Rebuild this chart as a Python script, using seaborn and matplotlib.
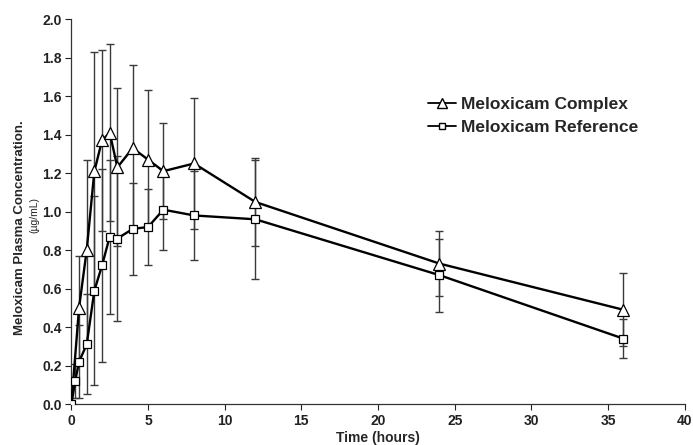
import matplotlib
matplotlib.use("Agg")
import matplotlib.pyplot as plt
import seaborn as sns
import pandas as pd
import numpy as np

# sampling times (hours)
times_complex = [0, 0.5, 1, 1.5, 2, 2.5, 3, 4, 5, 6, 8, 12, 24, 36]
complex_mean = [0, 0.50, 0.80, 1.21, 1.37, 1.41, 1.23, 1.33, 1.27, 1.21, 1.25, 1.05, 0.73, 0.49]
complex_sd = [0, 0.27, 0.47, 0.62, 0.47, 0.46, 0.41, 0.43, 0.36, 0.25, 0.34, 0.23, 0.17, 0.19]

times_ref = [0, 0.25, 0.5, 1, 1.5, 2, 2.5, 3, 4, 5, 6, 8, 12, 24, 36]
ref_mean = [0, 0.12, 0.22, 0.31, 0.59, 0.72, 0.87, 0.86, 0.91, 0.92, 1.01, 0.98, 0.96, 0.67, 0.34]
ref_sd = [0, 0.09, 0.19, 0.26, 0.49, 0.50, 0.40, 0.43, 0.24, 0.20, 0.21, 0.23, 0.31, 0.19, 0.10]

labels = ["Meloxicam Complex", "Meloxicam Reference"]
markers = {"Meloxicam Complex": "^", "Meloxicam Reference": "s"}

df = pd.concat([
    pd.DataFrame({"time": times_complex, "conc": complex_mean, "sd": complex_sd, "group": labels[0]}),
    pd.DataFrame({"time": times_ref, "conc": ref_mean, "sd": ref_sd, "group": labels[1]}),
])

sns.set_style("ticks")
plt.rcParams["font.family"] = ["Liberation Sans", "DejaVu Sans"]
plt.rcParams["font.weight"] = "bold"

fig = plt.figure(figsize=(6.93, 4.45), dpi=100)
ax = fig.add_axes([0.103, 0.092, 0.885, 0.865])

# error bars first, behind the curves
for name, sub in df.groupby("group"):
    sub = sub[sub["sd"] > 0]
    ax.errorbar(sub["time"], sub["conc"], yerr=sub["sd"], fmt="none",
                ecolor="#3a3a3a", elinewidth=1.0, capsize=3, capthick=1.0, zorder=1)

sns.lineplot(data=df, x="time", y="conc", hue="group", style="group",
             markers=markers, dashes=False, palette=["black", "black"],
             linewidth=1.7, markersize=8, markerfacecolor="white",
             markeredgecolor="black", markeredgewidth=0.9,
             ax=ax, zorder=3, legend=False)
# smaller squares
for ln in ax.get_lines():
    if ln.get_marker() == "s":
        ln.set_markersize(6)

ax.set_xlim(0, 40)
ax.set_ylim(0, 2.0)
ax.set_xticks(range(0, 41, 5))
ax.set_yticks(np.arange(0, 2.01, 0.2))
ax.set_yticklabels([f"{v:.1f}" for v in np.arange(0, 2.01, 0.2)])
ax.tick_params(labelsize=10, length=4, width=0.8, colors="#222222", pad=3)
for lbl in ax.get_xticklabels() + ax.get_yticklabels():
    lbl.set_fontweight("bold")
for s in ["left", "bottom"]:
    ax.spines[s].set_color("#333333")
    ax.spines[s].set_linewidth(0.9)
sns.despine(ax=ax)

ax.set_xlabel("Time (hours)", fontsize=10, fontweight="bold", labelpad=2)
ax.set_ylabel("")
fig.text(0.029, 0.488, "Meloxicam Plasma Concentration.", rotation=90,
         fontsize=9.5, fontweight="bold", ha="center", va="center")
fig.text(0.049, 0.517, "(\u00b5g/mL)", rotation=90,
         fontsize=7.5, fontweight="normal", ha="center", va="center")

handles = [plt.Line2D([], [], color="black", lw=1.3, marker=markers[n],
                      markersize=7 if markers[n] == "^" else 5,
                      markerfacecolor="white", markeredgecolor="black")
           for n in labels]
ax.legend(handles, labels, loc="upper left", bbox_to_anchor=(0.608, 0.797),
          bbox_transform=fig.transFigure, frameon=False, handlelength=1.6,
          handletextpad=0.3, labelspacing=0.42, borderaxespad=0,
          prop={"size": 12.5, "weight": "bold"})

fig.savefig("out.png", dpi=100)
